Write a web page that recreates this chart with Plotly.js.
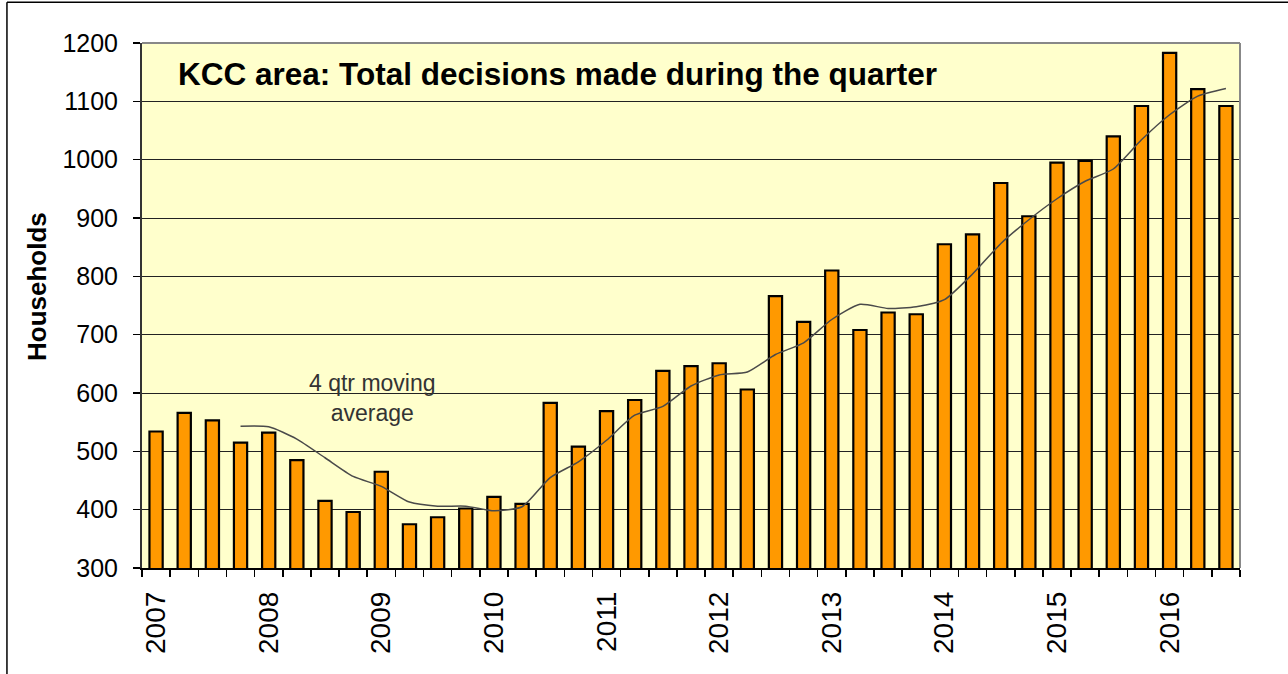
<!DOCTYPE html>
<html>
<head>
<meta charset="utf-8">
<script src="https://cdn.plot.ly/plotly-3.0.1.min.js"></script>
<style>
  html, body { margin: 0; padding: 0; background: #ffffff; }
  #chart { width: 1288px; height: 674px; }
</style>
</head>
<body>
<div id="chart"></div>
<script>
// Year tick labels (first quarter of each year)
const years = ['2007', '2008', '2009', '2010', '2011', '2012', '2013', '2014', '2015', '2016'];
const quarterNames = ['Q1', 'Q2', 'Q3', 'Q4'];

// Total decisions made during each quarter (2007 Q1 .. 2016 Q3)
const decisions = [534, 566, 553, 515, 532, 485, 415, 396, 465, 375,
                   387, 402, 422, 410, 583, 508, 569, 588, 638, 646,
                   651, 606, 766, 722, 810, 708, 738, 735, 855, 872,
                   960, 903, 995, 998, 1040, 1092, 1183, 1121, 1092];

// 4 quarter moving average
const movingAverage = [null, null, null,
                   543, 542, 521, 489, 457, 440, 413, 406, 406, 398,
                   405, 455, 482, 519, 562, 577, 612, 631, 636, 666,
                   686, 726, 752, 745, 748, 760, 804, 856, 897, 933,
                   963, 984, 1034, 1077, 1109, 1122];

const titleText = 'KCC area: Total decisions made during the quarter';
const yTitle = 'Households';
const maLabel = '4 qtr moving<br>average';

const idx = decisions.map((_, i) => i);
const labels = idx.map(i => years[Math.floor(i / 4)] + ' ' + quarterNames[i % 4]);
const yearIdx = years.map((_, i) => i * 4);

const FONT = 'Liberation Sans, Arial, sans-serif';

const traces = [
  {
    type: 'bar',
    x: idx,
    y: decisions,
    hovertext: labels,
    hoverinfo: 'text+y',
    marker: { color: '#FF9900', line: { color: '#000000', width: 2.2 } },
    showlegend: false
  },
  {
    type: 'scatter',
    mode: 'lines',
    x: idx,
    y: movingAverage,
    line: { color: '#4a4a4a', width: 1.5, shape: 'spline', smoothing: 0.6 },
    connectgaps: false,
    hoverinfo: 'y',
    showlegend: false
  }
];

const layout = {
  width: 1288,
  height: 674,
  autosize: false,
  margin: { l: 142, r: 48, t: 43, b: 106 },
  paper_bgcolor: '#ffffff',
  plot_bgcolor: '#FFFFCC',
  bargap: 0.53,
  font: { family: FONT, color: '#000000' },
  title: {
    text: '<b>' + titleText + '</b>',
    x: 178 / 1288,
    xanchor: 'left',
    y: 1 - 74 / 674,
    yanchor: 'middle',
    font: { family: FONT, size: 31.5, color: '#000000' }
  },
  xaxis: {
    range: [-0.5, 38.5],
    tickmode: 'array',
    tickvals: yearIdx,
    ticktext: years,
    tickangle: -90,
    ticks: '',
    ticklabelstandoff: 11,
    tickfont: { family: FONT, size: 28, color: '#000000' },
    showline: true,
    linecolor: '#000000',
    linewidth: 1.5,
    showgrid: false,
    zeroline: false,
    minor: { tick0: -0.5, dtick: 1, ticks: 'outside', ticklen: 7, tickwidth: 1.5, tickcolor: '#000000', showgrid: false }
  },
  yaxis: {
    range: [300, 1200],
    tick0: 300,
    dtick: 100,
    ticks: 'outside',
    ticklen: 7,
    tickwidth: 1.5,
    tickcolor: '#000000',
    ticklabelstandoff: 10,
    tickfont: { family: FONT, size: 25, color: '#000000' },
    showline: true,
    linecolor: '#333333',
    linewidth: 2,
    showgrid: true,
    gridcolor: '#222222',
    gridwidth: 1,
    zeroline: false
  },
  annotations: [
    {
      x: 7.7, y: 592, xref: 'x', yref: 'y',
      text: maLabel,
      showarrow: false,
      align: 'center',
      font: { family: FONT, size: 23, color: '#333333' }
    },
    {
      x: (37 - 142) / 1098, y: (568.3 - 287) / 525.6, xref: 'paper', yref: 'paper',
      xanchor: 'center', yanchor: 'middle',
      text: '<b>' + yTitle + '</b>',
      textangle: -90,
      showarrow: false,
      font: { family: FONT, size: 26, color: '#000000' }
    }
  ],
  shapes: [
    { type: 'line', xref: 'paper', yref: 'paper', x0: 0, x1: 1, y0: 1, y1: 1, line: { color: '#888888', width: 2 }, layer: 'above' },
    { type: 'line', xref: 'paper', yref: 'paper', x0: 1, x1: 1, y0: 0, y1: 1, line: { color: '#888888', width: 2 }, layer: 'above' },
    { type: 'line', xref: 'paper', yref: 'paper', x0: -0.123, x1: 1.06, y0: 1.0775, y1: 1.0775, line: { color: '#000000', width: 1.5 } },
    { type: 'line', xref: 'paper', yref: 'paper', x0: -0.123, x1: -0.123, y0: 1.0775, y1: -0.25, line: { color: '#000000', width: 1.5 } }
  ]
};

Plotly.newPlot('chart', traces, layout, { displayModeBar: false, staticPlot: true });
</script>
</body>
</html>
